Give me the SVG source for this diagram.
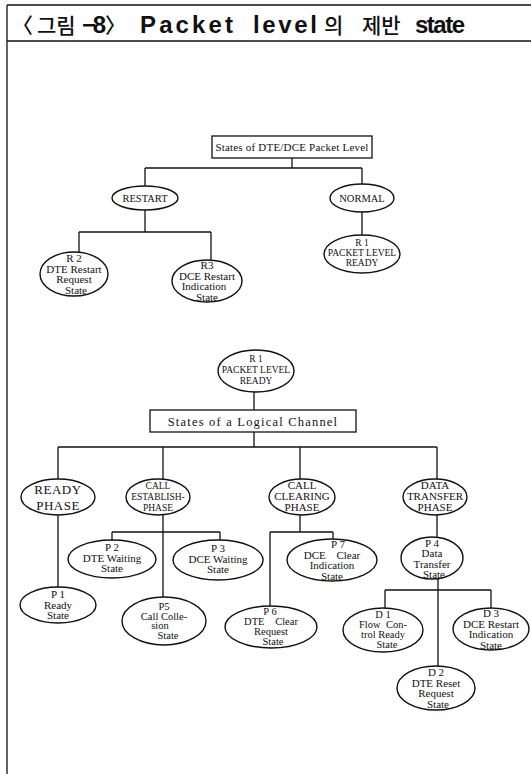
<svg xmlns="http://www.w3.org/2000/svg" width="531" height="774" viewBox="0 0 531 774">
<style>
.ln{stroke:#111;stroke-width:1.3;fill:none}
.el{stroke:#111;stroke-width:1.4;fill:#fff}
.bx{stroke:#111;stroke-width:1.3;fill:#fff}
.t{font-family:"Liberation Serif","Times New Roman",serif;font-size:11px;fill:#111;text-anchor:middle}
.s{font-size:9.5px}
.m{font-size:10.5px}
.tb{font-family:"Liberation Serif","Times New Roman",serif;fill:#111;text-anchor:middle}
.tp{font-family:"Liberation Serif","Times New Roman",serif;font-size:13px;fill:#111;text-anchor:middle;letter-spacing:0.5px}
.ko{font-family:"Noto Sans CJK KR","Noto Sans",sans-serif;font-size:21px;font-weight:500;fill:#111}
.la{font-family:"Liberation Sans","Noto Sans",sans-serif;font-size:24px;font-weight:bold;fill:#111}
</style>
<rect width="531" height="774" fill="#fff"/>
<g id="frame">
<line class="ln" x1="7" y1="5" x2="531" y2="5"/>
<line class="ln" x1="7" y1="41" x2="531" y2="41"/>
<line class="ln" x1="7" y1="5" x2="7" y2="774" stroke-width="1.6"/>
<text class="ko" x="12" y="33" font-size="22">〈</text>
<text class="ko" x="37" y="33">그림</text>
<text class="la" x="82" y="33" font-size="22" font-weight="normal" textLength="24">−8</text>
<text class="ko" x="105" y="33" font-size="22">〉</text>
<text class="la" x="140" y="33" textLength="93">Packet</text>
<text class="la" x="253" y="33" textLength="64">level</text>
<text class="ko" x="324" y="33">의</text>
<text class="ko" x="362" y="33">제반</text>
<text class="la" x="415" y="33" textLength="50">state</text>
</g>
<g id="connectors">
<line class="ln" x1="292" y1="158" x2="292" y2="168"/>
<line class="ln" x1="145" y1="168" x2="362" y2="168"/>
<line class="ln" x1="145" y1="168" x2="145" y2="187"/>
<line class="ln" x1="362" y1="168" x2="362" y2="184"/>
<line class="ln" x1="145" y1="210" x2="145" y2="232"/>
<line class="ln" x1="79" y1="232" x2="211" y2="232"/>
<line class="ln" x1="79" y1="232" x2="79" y2="253"/>
<line class="ln" x1="211" y1="232" x2="211" y2="260"/>
<line class="ln" x1="362" y1="212" x2="362" y2="236"/>
<line class="ln" x1="254" y1="392" x2="254" y2="410"/>
<line class="ln" x1="254" y1="432" x2="254" y2="447"/>
<line class="ln" x1="58" y1="447" x2="437" y2="447"/>
<line class="ln" x1="58" y1="447" x2="58" y2="479"/>
<line class="ln" x1="163" y1="447" x2="163" y2="479"/>
<line class="ln" x1="300" y1="447" x2="300" y2="479"/>
<line class="ln" x1="437" y1="447" x2="437" y2="479"/>
<line class="ln" x1="58" y1="515" x2="58" y2="587"/>
<line class="ln" x1="163" y1="515" x2="163" y2="598"/>
<line class="ln" x1="112" y1="532" x2="220" y2="532"/>
<line class="ln" x1="112" y1="532" x2="112" y2="541"/>
<line class="ln" x1="220" y1="532" x2="220" y2="541"/>
<line class="ln" x1="300" y1="514" x2="300" y2="532"/>
<line class="ln" x1="270" y1="532" x2="333" y2="532"/>
<line class="ln" x1="270" y1="532" x2="270" y2="607"/>
<line class="ln" x1="333" y1="532" x2="333" y2="540"/>
<line class="ln" x1="437" y1="515" x2="437" y2="537"/>
<line class="ln" x1="438" y1="579" x2="438" y2="666"/>
<line class="ln" x1="385" y1="590" x2="491" y2="590"/>
<line class="ln" x1="385" y1="590" x2="385" y2="609"/>
<line class="ln" x1="491" y1="590" x2="491" y2="609"/>
</g>
<g id="box-packet-level">
<rect class="bx" x="212" y="136" width="160" height="22"/>
<text class="tb" x="292" y="151" font-size="11" letter-spacing="0.2">States of DTE/DCE Packet Level</text>
</g>
<g id="restart">
<ellipse class="el" cx="145" cy="198" rx="33" ry="12"/>
<text class="t m" x="145" y="202">RESTART</text>
</g>
<g id="normal">
<ellipse class="el" cx="362" cy="198" rx="32" ry="14"/>
<text class="t m" x="362" y="202">NORMAL</text>
</g>
<g id="r2">
<ellipse class="el" cx="74" cy="274" rx="34" ry="22"/>
<text class="t" x="74" y="262">R 2</text>
<text class="t" x="74" y="272.5">DTE Restart</text>
<text class="t" x="74" y="283">Request</text>
<text class="t" x="76" y="293.5">State</text>
</g>
<g id="r3">
<ellipse class="el" cx="207" cy="281" rx="35" ry="21"/>
<text class="t" x="207" y="269">R3</text>
<text class="t" x="207" y="279.5">DCE Restart</text>
<text class="t" x="204" y="290">Indication</text>
<text class="t" x="207" y="300.5">State</text>
</g>
<g id="r1-normal">
<ellipse class="el" cx="362" cy="254" rx="38" ry="19"/>
<text class="t s" x="362" y="246">R 1</text>
<text class="t s" x="362" y="256">PACKET LEVEL</text>
<text class="t s" x="362" y="266">READY</text>
</g>
<g id="r1">
<ellipse class="el" cx="256" cy="371" rx="38" ry="21"/>
<text class="t s" x="256" y="362">R 1</text>
<text class="t s" x="256" y="373">PACKET LEVEL</text>
<text class="t s" x="256" y="384">READY</text>
</g>
<g id="box-logical-channel">
<rect class="bx" x="150" y="410" width="206" height="22"/>
<text class="tb" x="253" y="425.5" font-size="12.5" letter-spacing="1.2">States of a Logical Channel</text>
</g>
<g id="ready-phase">
<ellipse class="el" cx="58" cy="497" rx="37" ry="18"/>
<text class="tp" x="58" y="494">READY</text>
<text class="tp" x="58" y="510">PHASE</text>
</g>
<g id="call-establish">
<ellipse class="el" cx="158" cy="497" rx="32" ry="18"/>
<text class="t s" x="158" y="489">CALL</text>
<text class="t s" x="158" y="500">ESTABLISH-</text>
<text class="t s" x="158" y="511">PHASE</text>
</g>
<g id="call-clearing">
<ellipse class="el" cx="302" cy="497" rx="33" ry="18"/>
<text class="t" x="302" y="489" font-size="10">CALL</text>
<text class="t" x="302" y="500" font-size="10">CLEARING</text>
<text class="t" x="302" y="511" font-size="10">PHASE</text>
</g>
<g id="data-transfer">
<ellipse class="el" cx="435" cy="497" rx="32" ry="18"/>
<text class="t" x="435" y="489" font-size="10">DATA</text>
<text class="t" x="435" y="500" font-size="10">TRANSFER</text>
<text class="t" x="435" y="511" font-size="10">PHASE</text>
</g>
<g id="p2">
<ellipse class="el" cx="112" cy="559" rx="44" ry="19"/>
<text class="t" x="112" y="551">P 2</text>
<text class="t" x="112" y="561.5">DTE Waiting</text>
<text class="t" x="112" y="572">State</text>
</g>
<g id="p3">
<ellipse class="el" cx="218" cy="560" rx="45" ry="20"/>
<text class="t" x="218" y="552">P 3</text>
<text class="t" x="218" y="562.5">DCE Waiting</text>
<text class="t" x="218" y="573">State</text>
</g>
<g id="p7">
<ellipse class="el" cx="332" cy="560" rx="45" ry="21"/>
<text class="t" x="338" y="548" font-size="9.5">P 7</text>
<text class="t" x="332" y="558.5" font-size="9.5" word-spacing="8">DCE Clear</text>
<text class="t" x="332" y="569" font-size="9.5">Indication</text>
<text class="t" x="332" y="579.5" font-size="9.5">State</text>
</g>
<g id="p4">
<ellipse class="el" cx="432" cy="558" rx="31" ry="21"/>
<text class="t" x="432" y="546.5" font-size="9">P 4</text>
<text class="t" x="432" y="557" font-size="9">Data</text>
<text class="t" x="432" y="567.5" font-size="9">Transfer</text>
<text class="t" x="434" y="578" font-size="9">State</text>
</g>
<g id="p1">
<ellipse class="el" cx="58" cy="605" rx="38" ry="18"/>
<text class="t" x="58" y="598" font-size="9">P 1</text>
<text class="t" x="58" y="608.5" font-size="8.5">Ready</text>
<text class="t" x="58" y="619" font-size="8.5">State</text>
</g>
<g id="p5">
<ellipse class="el" cx="164" cy="621" rx="42" ry="24"/>
<text class="t m" x="164" y="610">P5</text>
<text class="t m" x="164" y="619.5">Call Colle-</text>
<text class="t m" x="160" y="629">sion</text>
<text class="t m" x="168" y="638.5">State</text>
</g>
<g id="p6">
<ellipse class="el" cx="271" cy="627" rx="46" ry="21"/>
<text class="t m" x="270" y="615">P 6</text>
<text class="t m" x="271" y="625" word-spacing="8">DTE Clear</text>
<text class="t m" x="271" y="635">Request</text>
<text class="t m" x="273" y="645">State</text>
</g>
<g id="d1">
<ellipse class="el" cx="383" cy="630" rx="40" ry="22"/>
<text class="t m" x="383" y="618">D 1</text>
<text class="t m" x="383" y="628" word-spacing="3">Flow Con-</text>
<text class="t m" x="383" y="638">trol Ready</text>
<text class="t m" x="387" y="648">State</text>
</g>
<g id="d3">
<ellipse class="el" cx="491" cy="629" rx="38" ry="21"/>
<text class="t" x="491" y="617">D 3</text>
<text class="t" x="491" y="627.5">DCE Restart</text>
<text class="t" x="491" y="638">Indication</text>
<text class="t" x="491" y="648.5">State</text>
</g>
<g id="d2">
<ellipse class="el" cx="436" cy="688" rx="39" ry="22"/>
<text class="t" x="436" y="676">D 2</text>
<text class="t" x="436" y="686.5">DTE Reset</text>
<text class="t" x="436" y="697">Request</text>
<text class="t" x="438" y="707.5">State</text>
</g>
</svg>
